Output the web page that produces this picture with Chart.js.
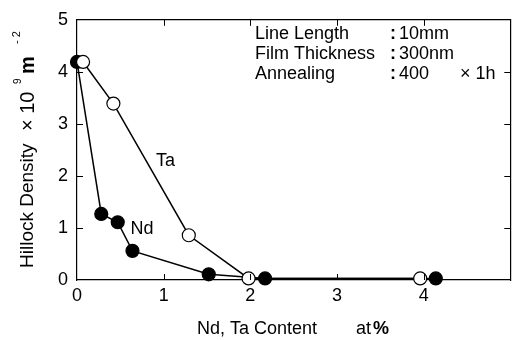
<!DOCTYPE html>
<html>
<head>
<meta charset="utf-8">
<script src="https://cdn.jsdelivr.net/npm/chart.js@4"></script>
<style>
  html, body { margin: 0; padding: 0; background: #fff; }
  #wrap { width: 518px; height: 340px; }
</style>
</head>
<body>
<div id="wrap"><canvas id="hillockChart" width="518" height="340"></canvas></div>
<script>
// Hillock density vs. alloy content
const ndContent = [0, 0.28, 0.47, 0.64, 1.52, 2.17, 4.14];
const ndDensity = [4.19, 1.27, 1.11, 0.56, 0.11, 0.03, 0.03];
const taContent = [0.07, 0.42, 1.29, 1.98, 3.96];
const taDensity = [4.19, 3.39, 0.86, 0.03, 0.03];
const xTicks = [0, 1, 2, 3, 4];
const yTicks = [0, 1, 2, 3, 4, 5];
const conditions = [
  ["Line Length", "10mm", ""],
  ["Film Thickness", "300nm", ""],
  ["Annealing", "400", "\u00d7 1h"],
];

const FONT = "'Liberation Sans', Arial, sans-serif";

const toPoints = (xs, ys) => xs.map((x, i) => ({ x: x, y: ys[i] }));

// inward tick marks on all four sides, plus series labels, notes and axis titles
const decorations = {
  id: "decorations",
  afterDraw(chart) {
    const { ctx, chartArea: a, scales } = chart;
    const xs = scales.x, ys = scales.y;
    const len = 6;
    ctx.save();
    ctx.strokeStyle = "#000";
    ctx.lineWidth = 1;
    ctx.beginPath();
    [1, 2, 3, 4].forEach(v => {
      const px = Math.round(xs.getPixelForValue(v)) + 0.5;
      ctx.moveTo(px, a.bottom); ctx.lineTo(px, a.bottom - len);
      ctx.moveTo(px, a.top); ctx.lineTo(px, a.top + len);
      const py = Math.round(ys.getPixelForValue(v)) + 0.5;
      ctx.moveTo(a.left, py); ctx.lineTo(a.left + len, py);
      ctx.moveTo(a.right, py); ctx.lineTo(a.right - len, py);
    });
    ctx.stroke();

    ctx.fillStyle = "#000";
    ctx.textBaseline = "middle";
    ctx.font = "18px " + FONT;
    ctx.textAlign = "center";
    ctx.fillText("Ta", xs.getPixelForValue(1.02), ys.getPixelForValue(2.28));
    ctx.fillText("Nd", xs.getPixelForValue(0.75), ys.getPixelForValue(0.98));

    ctx.textAlign = "left";
    conditions.forEach((row, i) => {
      const y = 34 + i * 20;
      ctx.font = "18px " + FONT;
      ctx.fillText(row[0], 255, y);
      ctx.fillText(row[1], 399, y);
      ctx.fillText(row[2], 460, y);
      ctx.font = "bold 18px " + FONT;
      ctx.fillText(":", 390, y);
    });

    // x title
    ctx.font = "18px " + FONT;
    ctx.fillText("Nd, Ta Content", 197, 329);
    ctx.fillText("at", 356, 329);
    ctx.font = "bold 18px " + FONT;
    ctx.fillText("%", 373, 329);

    // y title, rotated
    ctx.translate(28, 0);
    ctx.rotate(-Math.PI / 2);
    ctx.font = "19px " + FONT;
    ctx.fillText("Hillock Density", -268, 0);
    ctx.font = "20px " + FONT;
    ctx.fillText("\u00d7 10", -131, 0);
    ctx.font = "10px " + FONT;
    ctx.fillText("9", -84, -10);
    ctx.font = "bold 20px " + FONT;
    ctx.fillText("m", -74, 0);
    ctx.font = "11px " + FONT;
    ctx.fillText("- 2", -44, -11);
    ctx.restore();
  },
};

new Chart(document.getElementById("hillockChart"), {
  type: "scatter",
  data: {
    datasets: [
      {
        label: "Ta",
        data: toPoints(taContent, taDensity),
        showLine: true,
        clip: false,
        borderColor: "#000",
        borderWidth: 1.5,
        pointRadius: 6.5,
        pointBorderWidth: 1.2,
        pointBackgroundColor: "#fff",
        pointBorderColor: "#000",
        order: 0,
      },
      {
        label: "Nd",
        data: toPoints(ndContent, ndDensity),
        showLine: true,
        clip: false,
        borderColor: "#000",
        borderWidth: 1.5,
        pointRadius: 6.5,
        pointBorderWidth: 1.2,
        pointBackgroundColor: "#000",
        pointBorderColor: "#000",
        order: 1,
      },
    ],
  },
  options: {
    responsive: false,
    animation: false,
    layout: { padding: { top: 15, right: 2, left: 0, bottom: 0 } },
    plugins: { legend: { display: false }, tooltip: { enabled: false } },
    scales: {
      x: {
        type: "linear",
        min: 0,
        max: 5,
        afterFit(scale) { scale.height = 60; },
        afterBuildTicks(scale) { scale.ticks = xTicks.map(v => ({ value: v })); },
        grid: { display: false, drawTicks: false },
        border: { display: true, color: "#000", width: 1.2 },
        ticks: { color: "#000", padding: 5, font: { family: FONT, size: 18 } },
      },
      y: {
        type: "linear",
        min: 0,
        max: 5,
        afterFit(scale) { scale.width = 77; },
        afterBuildTicks(scale) { scale.ticks = yTicks.map(v => ({ value: v })); },
        grid: { display: false, drawTicks: false },
        border: { display: true, color: "#000", width: 1.2 },
        ticks: { color: "#000", padding: 9, font: { family: FONT, size: 18 } },
      },
      x2: {
        type: "linear", position: "top", min: 0, max: 5,
        afterFit(scale) { scale.height = 0; },
        grid: { display: false, drawTicks: false },
        border: { display: true, color: "#000", width: 1.2 },
        ticks: { display: false },
      },
      y2: {
        type: "linear", position: "right", min: 0, max: 5,
        afterFit(scale) { scale.width = 0; },
        grid: { display: false, drawTicks: false },
        border: { display: true, color: "#000", width: 1.2 },
        ticks: { display: false },
      },
    },
  },
  plugins: [decorations],
});
</script>
</body>
</html>
